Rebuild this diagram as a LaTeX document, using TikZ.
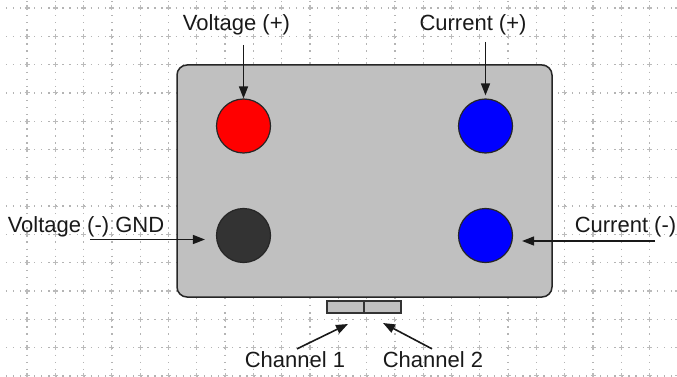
\documentclass[tikz,border=0pt]{standalone}
\usepackage{fontspec}
\setmainfont{Liberation Sans}
\usetikzlibrary{arrows.meta, positioning, calc}
\definecolor{boxgray}{HTML}{C0C0C0}
\definecolor{pindark}{HTML}{333333}
\definecolor{gridgray}{HTML}{B4B4B4}
\tikzset{
  gridline/.style={gridgray, line width=1.3pt, dash pattern=on 1.3pt off 5.775pt},
  gridcross/.style={gridgray!90, line width=1.1pt},
  housing/.style={draw=black!85, fill=boxgray, line width=1.5pt, rounded corners=10pt},
  pin/.style={
    circle, minimum size=54pt, inner sep=0pt,
    draw=black!85, line width=1.2pt, fill=#1
  },
  chanbox/.style={
    rectangle, minimum width=37pt, minimum height=12pt, inner sep=0pt,
    draw=black!80, line width=1.2pt, fill=boxgray
  },
  pinlabel/.style={font=\fontsize{22}{26}\selectfont, text=black!90, inner sep=0pt, anchor=base},
  pinarrow/.style={-{Triangle[length=12pt, width=9pt]}, line width=1.6pt, black!90},
}

\begin{document}
\begin{tikzpicture}[x=1pt, y=-1pt]
  \useasboundingbox (0,0) rectangle (677,377);
  \begin{scope}
    \clip (0,0) rectangle (677,377);
    % dotted grid
    \foreach \k in {0,...,13}
      \draw[gridline] (-1.3,8+28.3*\k) -- (690,8+28.3*\k);
    \foreach \k in {0,...,23}
      \draw[gridline] (27+28.3*\k,-20.3) -- (27+28.3*\k,390);
    \foreach \i in {0,...,23}
      \foreach \j in {0,...,13}
        \draw[gridcross] (24.5+28.3*\i,8+28.3*\j) -- (29.5+28.3*\i,8+28.3*\j)
                         (27+28.3*\i,5.5+28.3*\j) -- (27+28.3*\i,10.5+28.3*\j);
  \end{scope}

  \draw[housing] (177,65) rectangle (552,297);

  \node[pin=red]     (vplus)  at (243.5,126) {};
  \node[pin=blue]    (cplus)  at (485.5,126) {};
  \node[pin=pindark] (vminus) at (243.5,235.5) {};
  \node[pin=blue]    (cminus) at (485.5,235.5) {};

  \node[chanbox] (ch1) at (345.5,307) {};
  \node[chanbox] (ch2) at (382.5,307) {};

  \node[pinlabel] (vplbl) at (236.5,30.5) {Voltage (+)};
  \node[pinlabel] (cplbl) at (473,30.5)   {Current (+)};
  \node[pinlabel] (vmlbl) at (86,232)     {Voltage (-) GND};
  \node[pinlabel] (cmlbl) at (625.5,232)  {Current (-)};
  \node[pinlabel] (ch1lbl) at (295,367)   {Channel 1};
  \node[pinlabel] (ch2lbl) at (433,367)   {Channel 2};

  \coordinate (vmtail) at (90,239.5);
  \coordinate (cmtail) at (655,241);
  \coordinate (ch1tip) at (348,324);
  \coordinate (ch2tip) at (383,323);

  \draw[pinarrow] (vplus |- 0,45) -- (vplus.north);
  \draw[pinarrow] (cplus |- 0,42) -- ($(cplus.north)+(0,-3)$);
  \draw[pinarrow] (vmtail) -- ($(vmtail -| vminus.west)+(-11,0)$);
  \draw[pinarrow] (cmtail) -- ($(cmtail -| cminus.east)+(9,0)$);
  \draw[pinarrow] ($(ch1lbl.north)+(2,-2)$) -- (ch1tip);
  \draw[pinarrow] ($(ch2lbl.north)+(-1,-2)$) -- (ch2tip);
\end{tikzpicture}
\end{document}
